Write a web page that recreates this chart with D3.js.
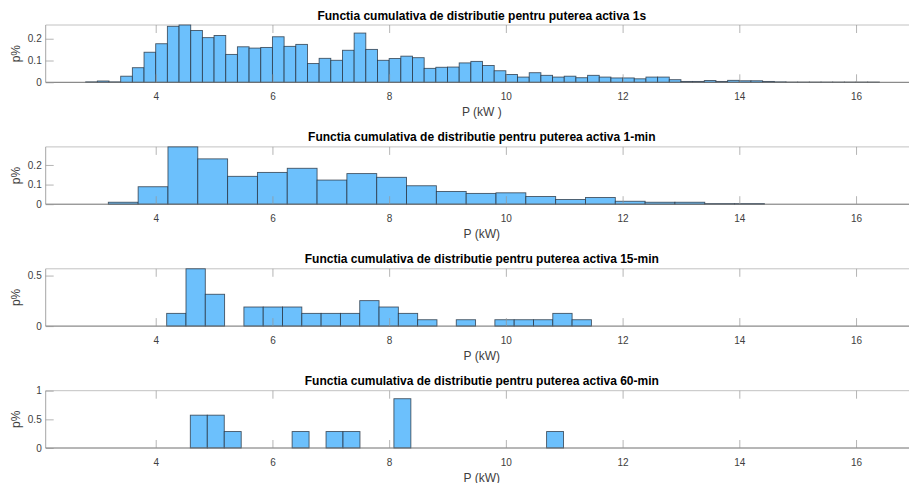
<!DOCTYPE html>
<html>
<head>
<meta charset="utf-8">
<script src="https://cdn.jsdelivr.net/npm/d3@7"></script>
<style>
  html, body { margin: 0; padding: 0; background: #fff; }
  svg { display: block; font-family: "Liberation Sans", Arial, Helvetica, sans-serif; }
</style>
</head>
<body>
<svg id="chart" width="909" height="483"></svg>
<script>
// Histogram panels of active power P (kW), pdf-normalised ("p%")
const titles = [
  "Functia cumulativa de distributie pentru puterea activa 1s",
  "Functia cumulativa de distributie pentru puterea activa 1-min",
  "Functia cumulativa de distributie pentru puterea activa 15-min",
  "Functia cumulativa de distributie pentru puterea activa 60-min"
];
const xLabels = ["P (kW )", "P (kW)", "P (kW)", "P (kW)"];
const yLabel = "p%";

// first bin edge and bin width of each panel (kW)
const binStart = [2.8, 3.188, 4.188, 4.593];
const binWidth = [0.2, 0.511, 0.3308, 0.2907];

// bar heights per bin
const p1s = [
  0.002, 0.006, 0.002, 0.028, 0.067, 0.138, 0.177, 0.257, 0.263, 0.238,
  0.205, 0.215, 0.128, 0.163, 0.157, 0.160, 0.209, 0.165, 0.174, 0.086,
  0.110, 0.101, 0.147, 0.226, 0.151, 0.101, 0.109, 0.120, 0.113, 0.064,
  0.069, 0.070, 0.089, 0.096, 0.077, 0.053, 0.036, 0.024, 0.044, 0.032,
  0.024, 0.028, 0.021, 0.032, 0.024, 0.020, 0.020, 0.016, 0.024, 0.024,
  0.012, 0.004, 0.004, 0.008, 0.004, 0.009, 0.007, 0.007, 0.004, 0.002,
  0.001, 0.001, 0.001, 0.001, 0.001, 0.001, 0.001, 0.001
];
const p1min = [
  0.010, 0.089, 0.292, 0.231, 0.142, 0.162, 0.183, 0.123, 0.156, 0.137,
  0.094, 0.065, 0.055, 0.058, 0.039, 0.024, 0.034, 0.015, 0.010, 0.010,
  0.003, 0.003
];
const p15min = [
  0.126, 0.567, 0.315, 0, 0.189, 0.189, 0.189, 0.126, 0.126, 0.126,
  0.252, 0.189, 0.126, 0.063, 0, 0.063, 0, 0.063, 0.063, 0.063,
  0.126, 0.063
];
const p60min = [
  0.573, 0.573, 0.287, 0, 0, 0, 0.287, 0, 0.287, 0.287,
  0, 0, 0.860, 0, 0, 0, 0, 0, 0, 0,
  0, 0.287
];
const series = [p1s, p1min, p15min, p60min];

// axis limits and ticks
const xLimits = [2.115, 17.06];
const xTicks = [4, 6, 8, 10, 12, 14, 16];
const yLimits = [0.263, 0.292, 0.567, 1];
const yTicks = [[0, 0.1, 0.2], [0, 0.1, 0.2], [0, 0.5], [0, 0.5, 1]];

const svg = d3.select("#chart");
const left = 45.7, right = 917.9;
const panelTop = 25, panelStep = 121.9, panelH = 57.3;
const tickLen = 8;
const fill = "rgb(108,192,252)";

const x = d3.scaleLinear().domain(xLimits).range([left, right]);

series.forEach((vals, i) => {
  const top = panelTop + i * panelStep;
  const bottom = top + panelH;
  const y = d3.scaleLinear().domain([0, yLimits[i]]).range([bottom, top]);
  const g = svg.append("g");

  const bins = vals.map((v, k) => ({
    x0: binStart[i] + k * binWidth[i],
    x1: binStart[i] + (k + 1) * binWidth[i],
    v
  }));

  // box: top border and left axis line
  g.append("line").attr("x1", left).attr("x2", right).attr("y1", top).attr("y2", top)
    .attr("stroke", "#c2c2c2").attr("stroke-width", 1);
  g.append("line").attr("x1", left).attr("x2", left).attr("y1", top).attr("y2", bottom)
    .attr("stroke", "#a6a6a6").attr("stroke-width", 1);

  // bars
  g.selectAll("rect.bar").data(bins).join("rect")
    .attr("class", "bar")
    .attr("x", d => x(d.x0))
    .attr("width", d => x(d.x1) - x(d.x0))
    .attr("y", d => y(d.v))
    .attr("height", d => y(0) - y(d.v))
    .attr("fill", fill)
    .attr("stroke", "rgba(35,45,58,0.78)")
    .attr("stroke-width", 0.9);

  // bottom axis line
  g.append("line").attr("x1", left).attr("x2", right).attr("y1", bottom).attr("y2", bottom)
    .attr("stroke", "#6e6e6e").attr("stroke-width", 1);

  // x ticks (bottom, pointing up) and top ticks (pointing down)
  const xAxisB = d3.axisBottom(x).tickValues(xTicks).tickSize(-tickLen).tickPadding(10.5)
    .tickFormat(d3.format("d"));
  const gb = g.append("g").attr("transform", `translate(0,${bottom})`).call(xAxisB);
  gb.select(".domain").remove();
  gb.selectAll(".tick line").attr("stroke", "rgba(150,150,150,0.7)");
  gb.selectAll(".tick text").attr("fill", "#404040").attr("font-size", 10)
    .attr("font-family", "'Liberation Sans', Arial, sans-serif");

  const xAxisT = d3.axisTop(x).tickValues(xTicks).tickSize(-tickLen).tickFormat("");
  const gt = g.append("g").attr("transform", `translate(0,${top})`).call(xAxisT);
  gt.select(".domain").remove();
  gt.selectAll(".tick line").attr("stroke", "rgba(150,150,150,0.7)");

  // y ticks
  const yAxis = d3.axisLeft(y).tickValues(yTicks[i]).tickSize(-tickLen).tickPadding(4)
    .tickFormat(d => d3.format("~g")(d));
  const gy = g.append("g").attr("transform", `translate(${left},0)`).call(yAxis);
  gy.select(".domain").remove();
  gy.selectAll(".tick line").attr("stroke", "rgba(150,150,150,0.7)");
  gy.selectAll(".tick text").attr("fill", "#404040").attr("font-size", 10)
    .attr("x", -4)
    .attr("font-family", "'Liberation Sans', Arial, sans-serif");

  // title
  g.append("text")
    .attr("x", (left + right) / 2).attr("y", top - 5.5)
    .attr("text-anchor", "middle")
    .attr("font-size", 12).attr("font-weight", "bold").attr("fill", "#000")
    .text(titles[i]);

  // x label
  g.append("text")
    .attr("x", (left + right) / 2).attr("y", bottom + 34)
    .attr("text-anchor", "middle")
    .attr("font-size", 12).attr("fill", "#404040")
    .text(xLabels[i]);

  // y label
  g.append("text")
    .attr("transform", `translate(19.5,${(top + bottom) / 2}) rotate(-90)`)
    .attr("text-anchor", "middle")
    .attr("font-size", 12).attr("fill", "#404040")
    .text(yLabel);
});
</script>
</body>
</html>
